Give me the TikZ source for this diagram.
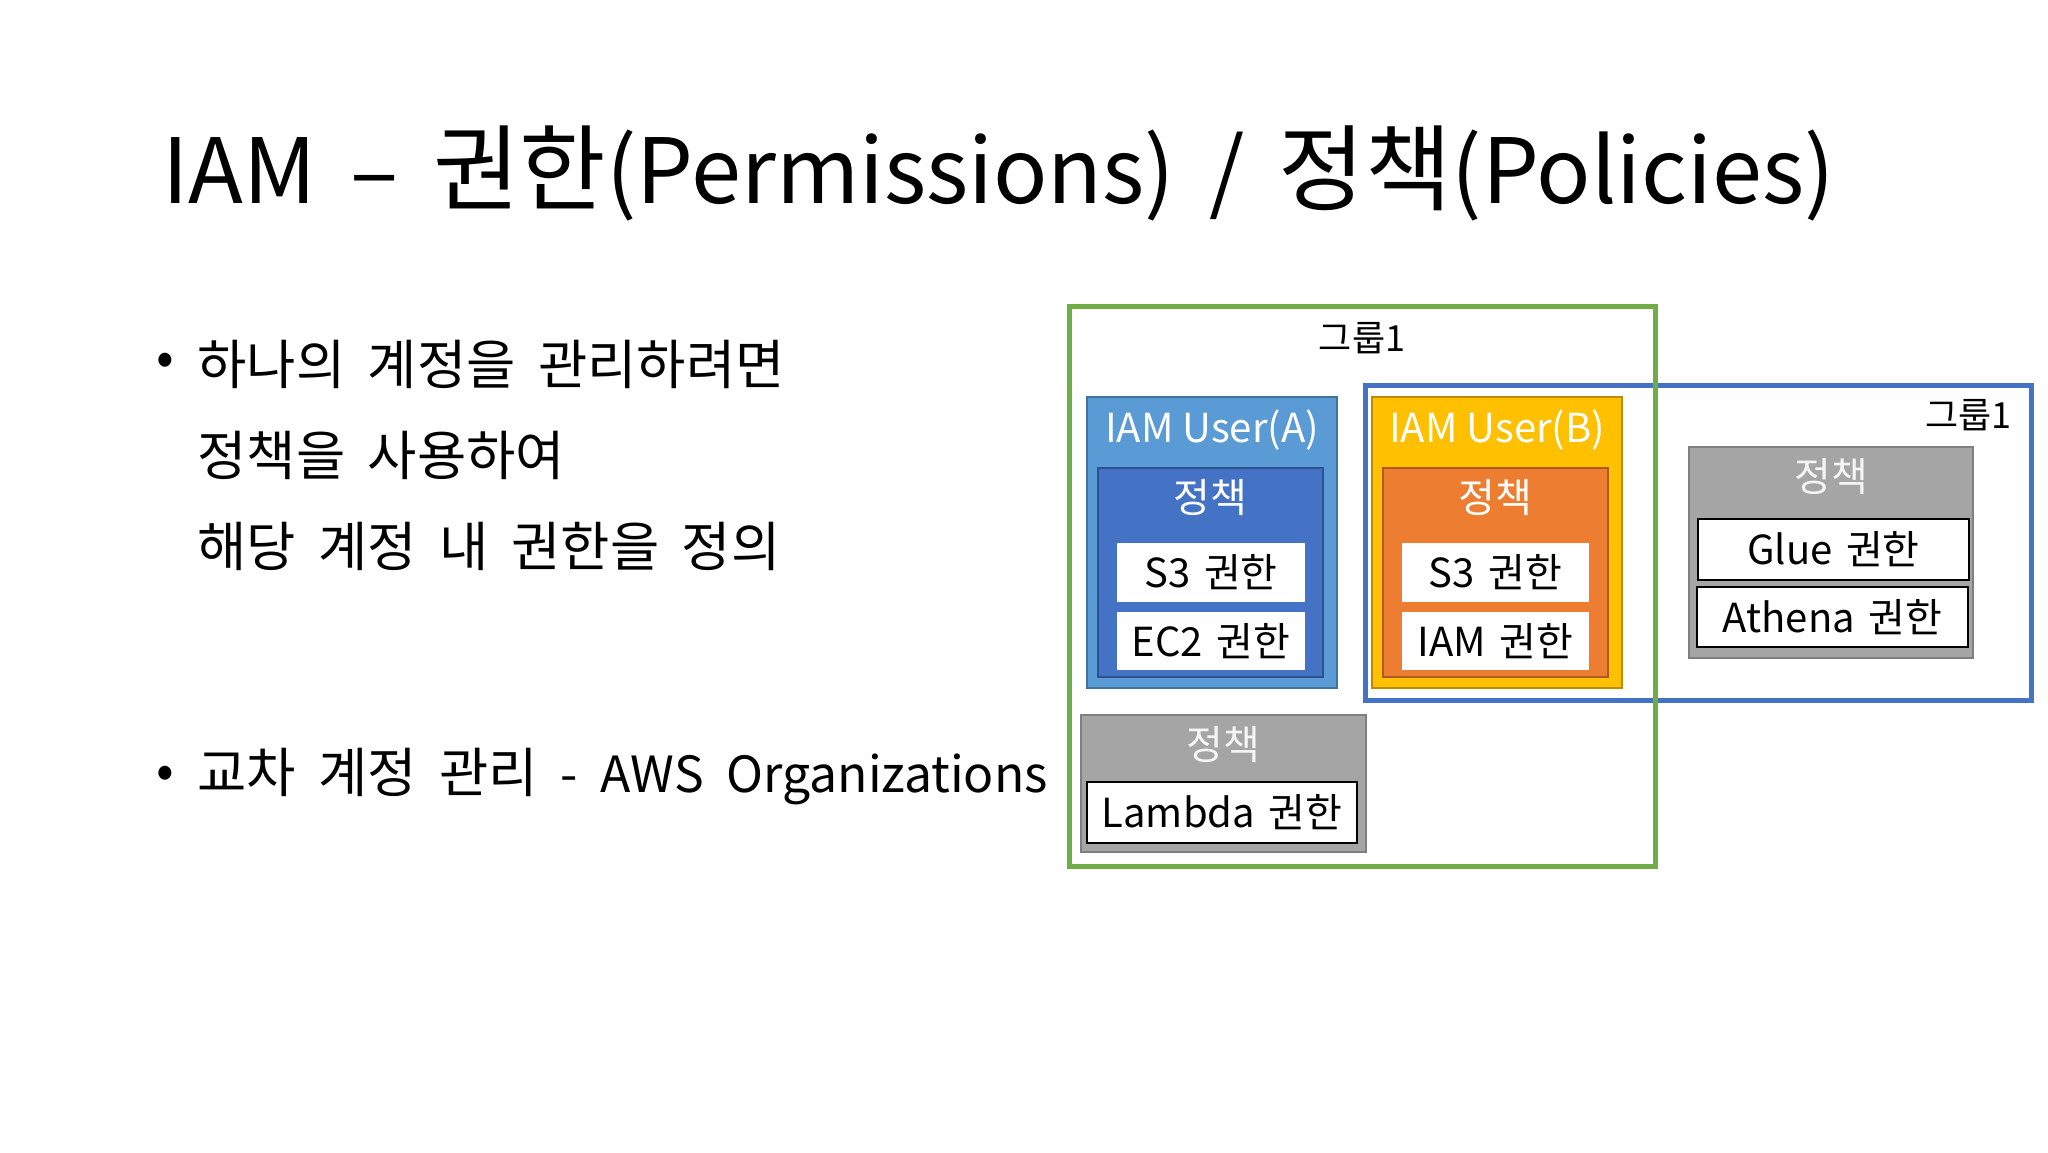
\documentclass[tikz,border=0pt]{standalone}
\usepackage{fontspec}
\setmainfont{Noto Sans CJK KR}
\newfontfamily\hangul[Scale=1.045]{Noto Sans CJK KR}
\newfontfamily\latinsm[Scale=0.93]{Noto Sans CJK KR}
\usetikzlibrary{positioning}

\definecolor{grpgreen}{HTML}{70AD47}
\definecolor{grpblue}{HTML}{4472C4}
\definecolor{usrblue}{HTML}{5B9BD5}
\definecolor{usrblueline}{HTML}{41719C}
\definecolor{polblue}{HTML}{4472C4}
\definecolor{polblueline}{HTML}{2F528F}
\definecolor{usryellow}{HTML}{FFC000}
\definecolor{usryellowline}{HTML}{BC8C00}
\definecolor{polorange}{HTML}{ED7D31}
\definecolor{polorangeline}{HTML}{AE5A21}
\definecolor{polgray}{HTML}{A5A5A5}
\definecolor{polgrayline}{HTML}{7F7F7F}

\begin{document}
\begin{tikzpicture}[x=0.5pt,y=-0.5pt,
every node/.style={inner sep=0pt},
grpframe/.style={draw,line width=2.5pt},
grplbl/.style={font=\fontsize{18}{22}\selectfont},
boxlbl/.style={text=white,font=\fontsize{20}{24}\selectfont},
perm/.style={fill=white,font=\fontsize{20}{24}\selectfont\setlength{\spaceskip}{0.34em}},
permline/.style={perm,draw=black,line width=1.2pt},
bullet/.style={font=\fontsize{26.8}{32}\selectfont\setlength{\spaceskip}{0.42em},anchor=west}]
\useasboundingbox (0,0) rectangle (2048,1152);

% title and text
\node[anchor=base west,font=\fontsize{45}{56}\selectfont\setlength{\spaceskip}{0.38em}] (title) at (162,203) {IAM – {\hangul 권한}(Permissions) / {\hangul 정책}(Policies)};
\node[font=\fontsize{26}{31}\selectfont] (dot1) at (165,364) {•};
\node[bullet] (line1) at (197,364) {하나의 계정을 관리하려면};
\node[bullet] (line2) at (197,455) {정책을 사용하여};
\node[bullet] (line3) at (197,546) {해당 계정 내 권한을 정의};
\node[font=\fontsize{26}{31}\selectfont] (dot2) at (165,777) {•};
\node[bullet] (line4) at (197,777) {교차 계정 관리 {\latinsm - AWS Organizations}};

% groups
\node[grpframe,draw=grpblue,minimum width=333pt,minimum height=157.5pt] (grpB) at (1698,542.5) {};
\node[grpframe,draw=grpgreen,minimum width=293pt,minimum height=280pt] (grpA) at (1362,586) {};
\node[grplbl] (grpAlbl) at (1362,338) {그룹1};
\node[grplbl,anchor=east] (grpBlbl) at (2012,415) {그룹1};

% user A
\node[fill=usrblue,draw=usrblueline,line width=0.8pt,minimum width=125pt,minimum height=145.5pt] (userA) at (1212,542.5) {};
\node[boxlbl] (userAlbl) at (1212,430) {IAM User(A)};
\node[fill=polblue,draw=polblueline,line width=0.8pt,minimum width=112.5pt,minimum height=104.5pt] (polA) at (1210.5,572.5) {};
\node[boxlbl] (polAlbl) at (1210.5,498) {정책};
\node[perm,minimum width=94pt,minimum height=29.5pt] (s3A) at (1211,572.5) {S3 권한};
\node[perm,minimum width=94pt,minimum height=29pt] (ec2A) at (1211,641) {EC2 권한};

% user B
\node[fill=usryellow,draw=usryellowline,line width=0.8pt,minimum width=125pt,minimum height=145.5pt] (userB) at (1497,542.5) {};
\node[boxlbl] (userBlbl) at (1497,430) {IAM User(B)};
\node[fill=polorange,draw=polorangeline,line width=0.8pt,minimum width=112.5pt,minimum height=104.5pt] (polB) at (1495.5,572.5) {};
\node[boxlbl] (polBlbl) at (1495.5,498) {정책};
\node[perm,minimum width=93.5pt,minimum height=29.5pt] (s3B) at (1495.5,572.5) {S3 권한};
\node[perm,minimum width=93.5pt,minimum height=29pt] (iamB) at (1495.5,641) {IAM 권한};

% group policies
\node[fill=polgray,draw=polgrayline,line width=0.8pt,minimum width=142.5pt,minimum height=68.5pt] (polC) at (1223.5,783.5) {};
\node[boxlbl,text=gray!8] (polClbl) at (1223.5,745) {정책};
\node[permline,minimum width=135pt,minimum height=30.5pt] (lambda) at (1222,812.5) {Lambda 권한};
\node[fill=polgray,draw=polgrayline,line width=0.8pt,minimum width=142pt,minimum height=105.5pt] (polD) at (1831,552.5) {};
\node[boxlbl,text=gray!8] (polDlbl) at (1831,477) {정책};
\node[permline,minimum width=135.5pt,minimum height=30.5pt] (glue) at (1833.5,549.5) {Glue 권한};
\node[permline,minimum width=135.5pt,minimum height=30pt] (athena) at (1832.5,617) {Athena 권한};
\end{tikzpicture}
\end{document}
